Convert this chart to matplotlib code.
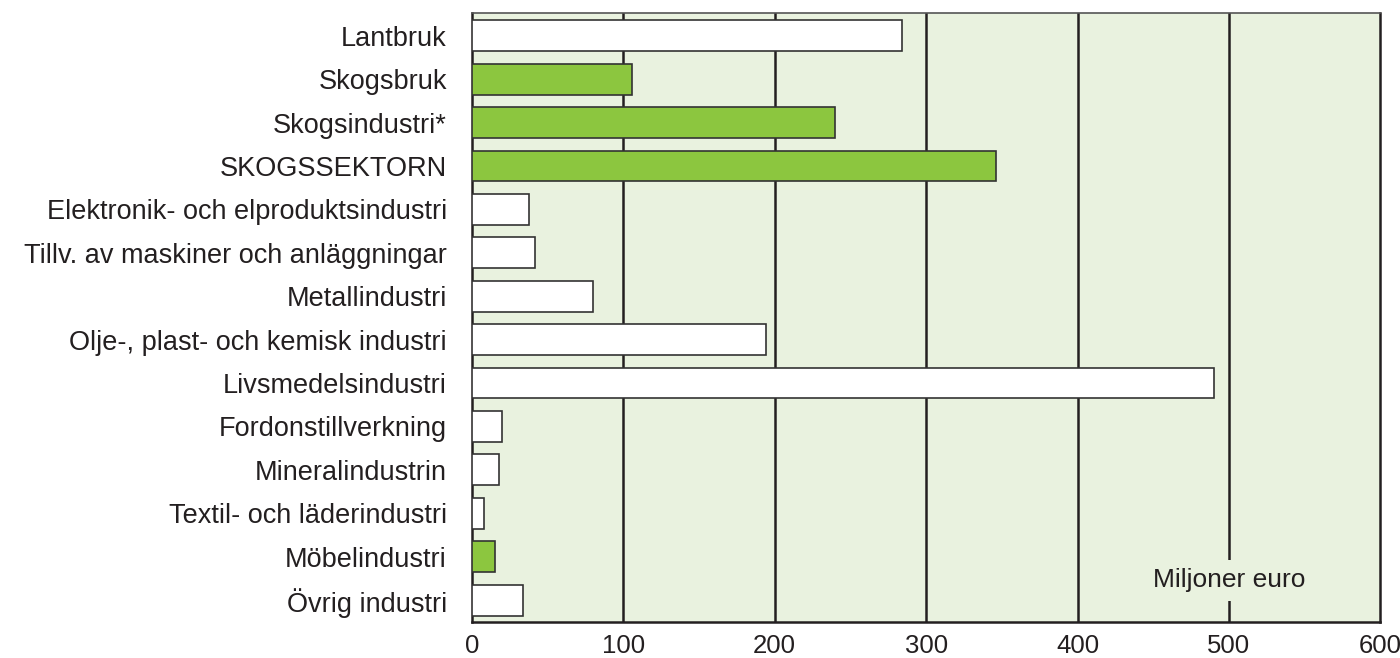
import matplotlib
matplotlib.use("Agg")
import matplotlib.pyplot as plt

plt.rcParams['font.family'] = ['Liberation Sans', 'DejaVu Sans']

categories = ["Lantbruk", "Skogsbruk", "Skogsindustri*", "SKOGSSEKTORN",
              "Elektronik- och elproduktsindustri", "Tillv. av maskiner och anläggningar",
              "Metallindustri", "Olje-, plast- och kemisk industri", "Livsmedelsindustri",
              "Fordonstillverkning", "Mineralindustrin", "Textil- och läderindustri",
              "Möbelindustri", "Övrig industri"]
values = [284, 106, 240, 346, 38, 42, 80, 194, 490, 20, 18, 8, 15, 34]
forest = [False, True, True, True, False, False, False, False, False,
          False, False, False, True, False]

green = "#8cc63f"
bg = "#e9f2df"

fig = plt.figure(figsize=(14, 6.58), dpi=100)
ax = fig.add_axes([0.337, 0.055, 0.649, 0.925])
ax.set_facecolor(bg)

ypos = list(range(len(categories)))
colors = [green if f else "white" for f in forest]
ax.barh(ypos, values, height=0.71, color=colors, edgecolor="#333333", linewidth=1.2, zorder=3)

ax.set_xlim(0, 600)
ax.set_ylim(len(categories) - 0.5, -0.52)
ax.set_xticks([0, 100, 200, 300, 400, 500, 600])
ax.set_yticks(ypos)
ax.set_yticklabels(categories)
ax.tick_params(axis="x", length=0, labelsize=18.5, colors="#231f20", pad=9)
ax.tick_params(axis="y", length=0, labelsize=19.5, colors="#231f20", pad=18)
for x in [100, 200, 300, 400, 500]:
    ax.axvline(x, color="#231f20", linewidth=1.8, zorder=1)
for s in ax.spines.values():
    s.set_color("#231f20")
    s.set_linewidth(1.8)
ax.spines["top"].set_color("#555555")
ax.spines["top"].set_linewidth(1.2)

ax.text(500, 12.54, "Miljoner euro", ha="center", va="center", fontsize=19,
        color="#231f20", zorder=2,
        bbox=dict(facecolor=bg, edgecolor="none", pad=6))

fig.savefig("out.png", dpi=100)
